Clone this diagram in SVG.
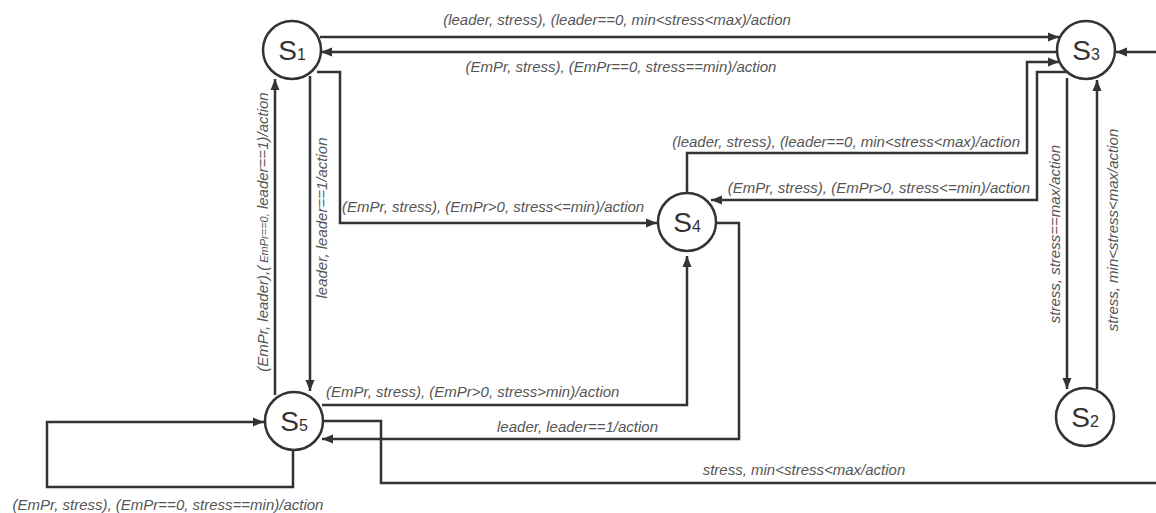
<svg xmlns="http://www.w3.org/2000/svg" width="1156" height="513" viewBox="0 0 1156 513">
<style>
.node circle{fill:#fff;stroke:#333;stroke-width:2.5}
.nl{font-family:"Liberation Sans",Arial,sans-serif;font-size:28px;fill:#333}
.sub{font-size:16px}
.edges path{fill:none;stroke:#333;stroke-width:2.5;marker-end:url(#arr)}
.lbl{font-family:"Liberation Sans",Arial,sans-serif;font-style:italic;font-size:15px;fill:#555}
</style>
<defs>
<marker id="arr" markerUnits="userSpaceOnUse" markerWidth="12" markerHeight="10" refX="11" refY="5" orient="auto">
<path d="M0,0.5 L11,5 L0,9.5 z" fill="#333"/>
</marker>
</defs>
<rect width="1156" height="513" fill="#fff"/>
<g class="edges">
<path id="e13" d="M320 37 H1059"/>
<path id="e31" d="M1058 52 H321"/>
<path id="e14" d="M317 72 H340 V223 H657"/>
<path id="e15" d="M310 76 V391"/>
<path id="e51" d="M275 395 V79"/>
<path id="e43" d="M687 193 V153 H1027 V62 H1059"/>
<path id="e34" d="M1068 72 H1037 V200 H711"/>
<path id="e32" d="M1067 78 V389"/>
<path id="e23" d="M1097 389 V80"/>
<path id="e54" d="M322 405 H687 V256"/>
<path id="e45" d="M716 223 H739 V439 H322"/>
<path id="e53" d="M322 421 H381 V483 H1180 V52 H1116"/>
<path id="e55" d="M293 450 V487 H47 V422 H264"/>
</g>
<g id="labels">
<text class="lbl" x="617" y="25" text-anchor="middle">(leader, stress), (leader==0, min&lt;stress&lt;max)/action</text>
<text class="lbl" x="621" y="72" text-anchor="middle">(EmPr, stress), (EmPr==0, stress==min)/action</text>
<text class="lbl" x="1020" y="147" text-anchor="end">(leader, stress), (leader==0, min&lt;stress&lt;max)/action</text>
<text class="lbl" x="1030" y="193" text-anchor="end">(EmPr, stress), (EmPr&gt;0, stress&lt;=min)/action</text>
<text class="lbl" x="342" y="212">(EmPr, stress), (EmPr&gt;0, stress&lt;=min)/action</text>
<text class="lbl" x="326" y="397">(EmPr, stress), (EmPr&gt;0, stress&gt;min)/action</text>
<text class="lbl" x="658" y="432" text-anchor="end">leader, leader==1/action</text>
<text class="lbl" x="804" y="475" text-anchor="middle">stress, min&lt;stress&lt;max/action</text>
<text class="lbl" x="168" y="510" text-anchor="middle">(EmPr, stress), (EmPr==0, stress==min)/action</text>
<text class="lbl" transform="translate(327 218) rotate(-90)" text-anchor="middle">leader, leader==1/action</text>
<text class="lbl" transform="translate(268 232) rotate(-90)" text-anchor="middle">(EmPr, leader),(<tspan font-size="11"> EmPr==0,</tspan> leader==1)/action</text>
<text class="lbl" transform="translate(1060 234) rotate(-90)" text-anchor="middle">stress, stress==max/action</text>
<text class="lbl" transform="translate(1118 230) rotate(-90)" text-anchor="middle">stress, min&lt;stress&lt;max/action</text>
</g>
<g id="S1" class="node"><circle cx="292" cy="50" r="29"/><text class="nl" x="292" y="60" text-anchor="middle">S<tspan class="sub">1</tspan></text></g>
<g id="S3" class="node"><circle cx="1086" cy="50" r="29"/><text class="nl" x="1086" y="60" text-anchor="middle">S<tspan class="sub">3</tspan></text></g>
<g id="S4" class="node"><circle cx="687" cy="222" r="29"/><text class="nl" x="687" y="232" text-anchor="middle">S<tspan class="sub">4</tspan></text></g>
<g id="S5" class="node"><circle cx="294" cy="421" r="29"/><text class="nl" x="294" y="431" text-anchor="middle">S<tspan class="sub">5</tspan></text></g>
<g id="S2" class="node"><circle cx="1085" cy="417" r="29"/><text class="nl" x="1085" y="427" text-anchor="middle">S<tspan class="sub">2</tspan></text></g>
</svg>
